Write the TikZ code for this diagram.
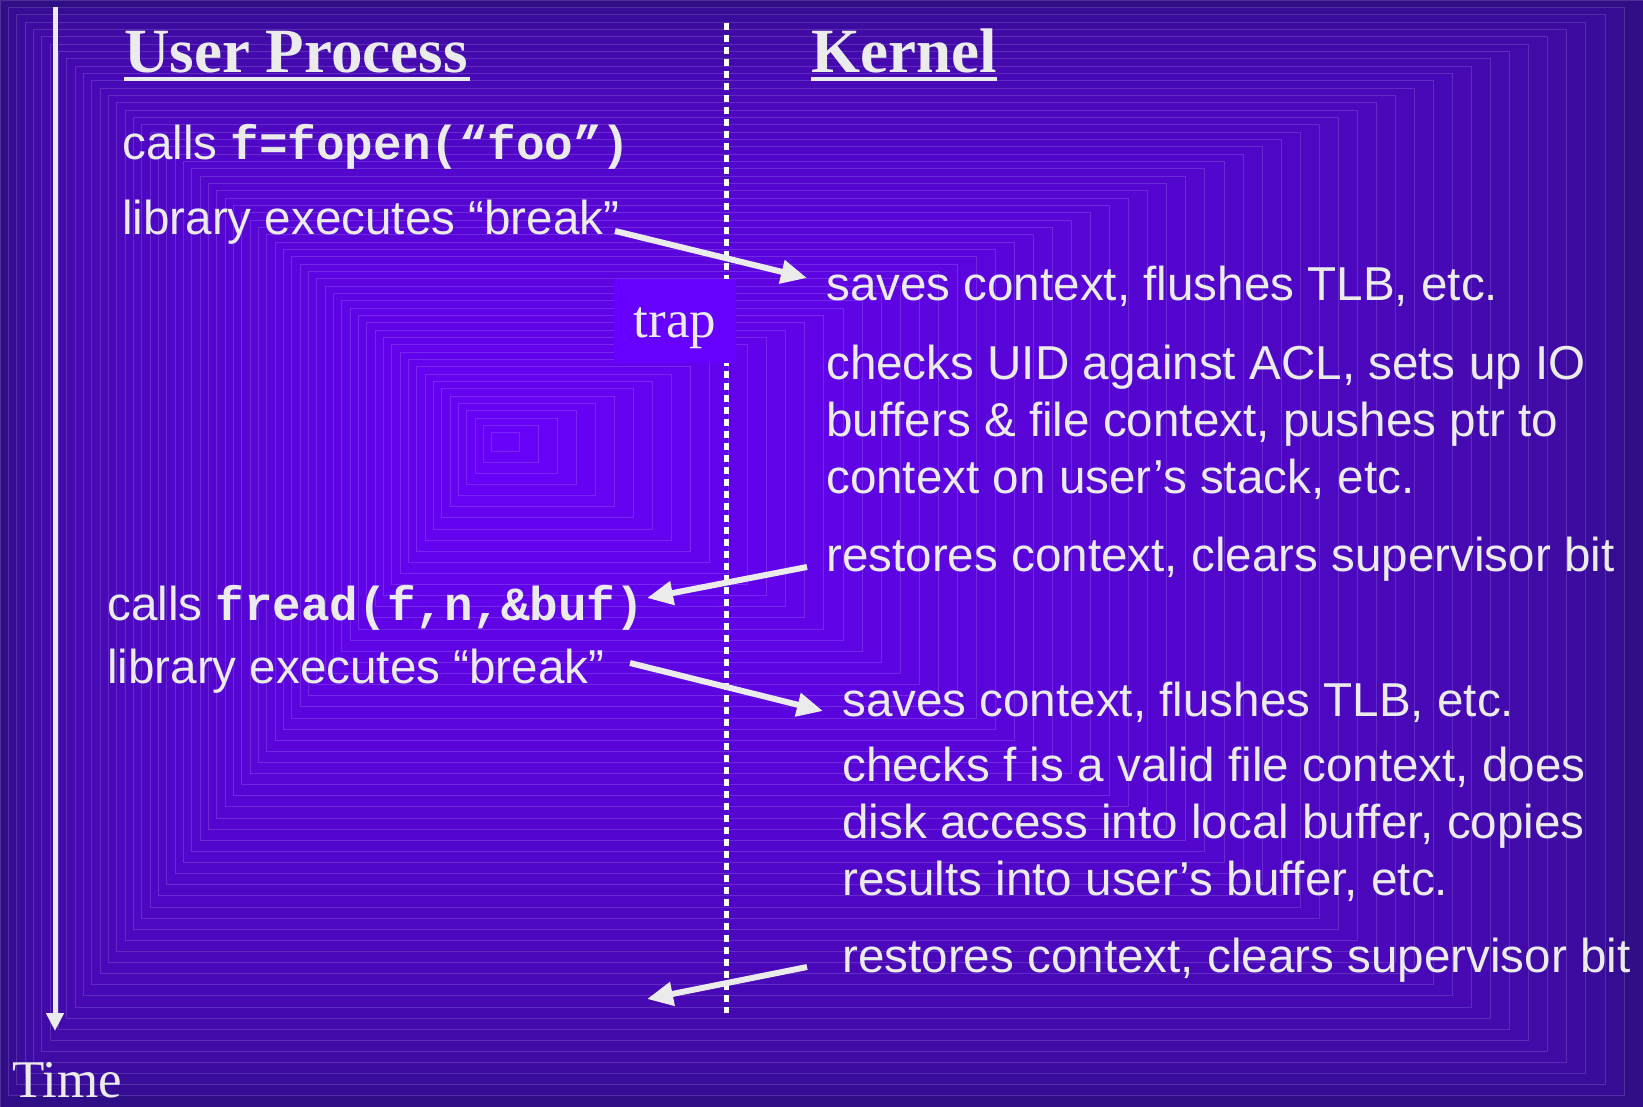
\documentclass[tikz,border=0pt]{standalone}
\usepackage{fontspec}
\setmainfont{Liberation Serif}
\newfontfamily\sansf{Liberation Sans}
\newfontfamily\monof{Liberation Mono}
\usetikzlibrary{arrows.meta}
\definecolor{bgout}{HTML}{300E86}
\definecolor{bgin}{HTML}{6802F8}
\definecolor{txt}{HTML}{EBEBEB}
\definecolor{trapc}{HTML}{6600FF}
\begin{document}
\begin{tikzpicture}[x=1pt,y=-1pt,
  body/.style={anchor=base west, inner sep=0pt, text=txt, font=\sansf\fontsize{47.6}{56}\selectfont},
  head/.style={anchor=base west, inner sep=0pt, text=txt, font=\bfseries\fontsize{63}{70}\selectfont},
  seriflab/.style={inner sep=0pt, text=txt, font=\fontsize{53}{60}\selectfont},
  flow/.style={draw=txt, line width=6pt, -{Triangle[length=26pt,width=23pt]}},
  uline/.style={draw=txt, line width=3.5pt},
  divider/.style={draw=white, line width=5pt, dash pattern=on 7pt off 5pt},
  timeaxis/.style={draw=txt, line width=5pt, -{Triangle[length=18pt,width=17pt]}},
  trapbox/.style={fill=trapc, inner sep=0pt, minimum width=122pt, minimum height=84pt}
]
\useasboundingbox (0,0) rectangle (1643,1107);
% background: concentric rectangular gradient
\def\Wd{1643}\def\Ht{1107}\def\cx{500}\def\cy{440}
\foreach \i in {0,...,59}{
  \pgfmathsetmacro\s{1-\i/60}
  \pgfmathtruncatemacro\p{100*sqrt(\i/59)}
  \path[fill=bgin!\p!bgout, draw=white, draw opacity=0.14, line width=0.8pt]
    ({\cx-\cx*\s},{\cy-\cy*\s}) rectangle ({\cx+(\Wd-\cx)*\s},{\cy+(\Ht-\cy)*\s});
}

% time axis
\coordinate (tstart) at (55,7);
\coordinate (tend) at (55,1031);
\draw[timeaxis] (tstart) -- (tend);
\node[seriflab, anchor=base west] (time) at (12,1097) {Time};

% divider
\coordinate (dtop) at (726,23);
\coordinate (dbot) at (726,1013);
\draw[divider] (dtop) -- (dbot);

% headings
\node[head] (user) at (124,73) {User Process};
\node[head] (kernel) at (811,73) {Kernel};
\draw[uline] (user.base west) ++(0,6) -- ++(346,0);
\draw[uline] (kernel.base west) ++(0,6) -- ++(186,0);

% trap box
\node[trapbox] (trapbg) at (675,321) {};
\node[seriflab, anchor=base] (trap) at (675,337) {trap};

% user side text
\node[body] (u1) at (122,160) {calls {\monof\bfseries f=fopen(“foo”)}};
\node[body] (u2) at (122,235) {library executes “break”};
\node[body] (u3) at (107,620) {calls {\monof\bfseries fread(f,n,\&buf)}};
\node[body] (u4) at (107,683) {library executes “break”};

% kernel side text
\node[body] (k1) at (826,300) {saves context, flushes TLB, etc.};
\node[body] (k2a) at (826,379) {checks UID against ACL, sets up IO};
\node[body] (k2b) at (826,436) {buffers \& file context, pushes ptr to};
\node[body] (k2c) at (826,493) {context on user’s stack, etc.};
\node[body] (k3) at (826,571) {restores context, clears supervisor bit};
\node[body] (k4) at (842,716) {saves context, flushes TLB, etc.};
\node[body] (k5a) at (842,781) {checks f is a valid file context, does};
\node[body] (k5b) at (842,838) {disk access into local buffer, copies};
\node[body] (k5c) at (842,895) {results into user’s buffer, etc.};
\node[body] (k6) at (842,972) {restores context, clears supervisor bit};

% arrows
\coordinate (a1s) at (615,231);
\coordinate (a1e) at (807,278);
\coordinate (a2s) at (807,567);
\coordinate (a2e) at (647,598);
\coordinate (a3s) at (630,663);
\coordinate (a3e) at (823,711);
\coordinate (a4s) at (807,967);
\coordinate (a4e) at (647,999);
\draw[flow] (a1s) -- (a1e);
\draw[flow] (a2s) -- (a2e);
\draw[flow] (a3s) -- (a3e);
\draw[flow] (a4s) -- (a4e);
\end{tikzpicture}
\end{document}
